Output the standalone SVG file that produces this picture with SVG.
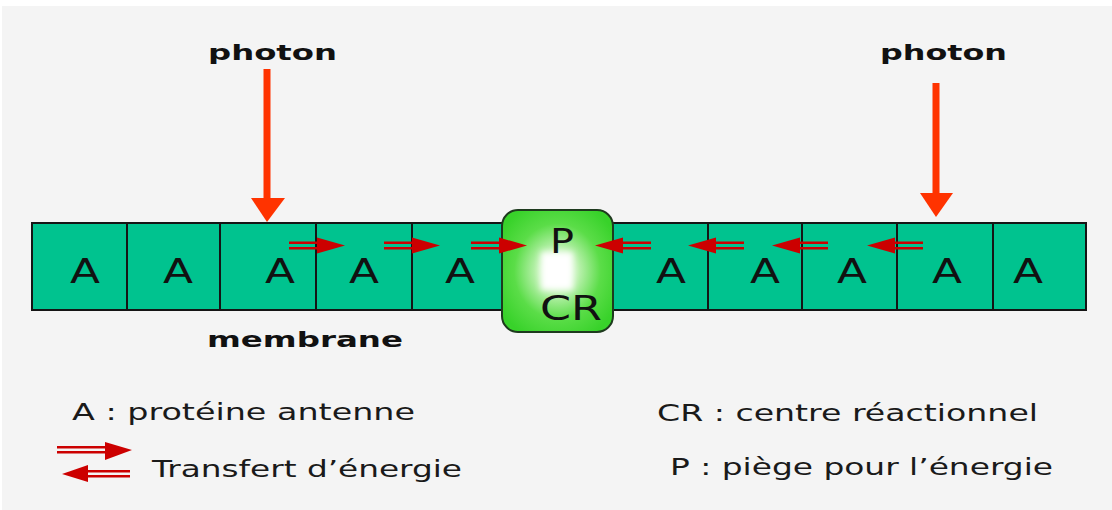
<svg xmlns="http://www.w3.org/2000/svg" width="1112" height="510" viewBox="0 0 1112 510">
<style>
.bg{fill:#f4f4f4}
.cell{fill:#00c38f;stroke:#151515;stroke-width:2}
.lbl{font-family:"DejaVu Sans",Verdana,sans-serif;font-size:34px;fill:#111;text-anchor:middle}
.bold{font-family:"DejaVu Sans","Liberation Sans",sans-serif;font-weight:bold;font-size:22px;fill:#111}
.leg{font-family:"DejaVu Sans","Liberation Sans",sans-serif;font-size:23px;fill:#1a1a1a}
.ph{stroke:#ff3300;stroke-width:7;fill:none}
.phh{fill:#ff3300}
.tr{fill:#cc0000}
</style>
<defs>
<radialGradient id="crg" cx="0.5" cy="0.5" r="0.6">
<stop offset="0" stop-color="#ffffff"/>
<stop offset="0.3" stop-color="#c0f2b4"/>
<stop offset="0.65" stop-color="#5bdd48"/>
<stop offset="1" stop-color="#38d22a"/>
</radialGradient>
<filter id="blur" x="-50%" y="-50%" width="200%" height="200%"><feGaussianBlur stdDeviation="3"/></filter>
<g id="arr">
<rect x="-56" y="-4" width="30" height="2.5" class="tr"/>
<rect x="-56" y="1.5" width="30" height="2.5" class="tr"/>
<polygon points="-28,-8 0,0 -28,8" class="tr"/>
</g>
</defs>
<rect class="bg" x="2" y="6" width="1110" height="504"/>

<g id="cells">
<g id="cell1"><rect class="cell" x="32" y="223" width="95" height="87"/><text class="lbl" x="85" y="283" textLength="30" lengthAdjust="spacingAndGlyphs">A</text></g>
<g id="cell2"><rect class="cell" x="127" y="223" width="93" height="87"/><text class="lbl" x="178" y="283" textLength="30" lengthAdjust="spacingAndGlyphs">A</text></g>
<g id="cell3"><rect class="cell" x="220" y="223" width="96" height="87"/><text class="lbl" x="280" y="283" textLength="30" lengthAdjust="spacingAndGlyphs">A</text></g>
<g id="cell4"><rect class="cell" x="316" y="223" width="96" height="87"/><text class="lbl" x="364" y="283" textLength="30" lengthAdjust="spacingAndGlyphs">A</text></g>
<g id="cell5"><rect class="cell" x="412" y="223" width="95" height="87"/><text class="lbl" x="460" y="283" textLength="30" lengthAdjust="spacingAndGlyphs">A</text></g>
<g id="cell6"><rect class="cell" x="608" y="223" width="100" height="87"/><text class="lbl" x="671" y="283" textLength="30" lengthAdjust="spacingAndGlyphs">A</text></g>
<g id="cell7"><rect class="cell" x="708" y="223" width="94" height="87"/><text class="lbl" x="765" y="283" textLength="30" lengthAdjust="spacingAndGlyphs">A</text></g>
<g id="cell8"><rect class="cell" x="802" y="223" width="95" height="87"/><text class="lbl" x="852" y="283" textLength="30" lengthAdjust="spacingAndGlyphs">A</text></g>
<g id="cell9"><rect class="cell" x="897" y="223" width="96" height="87"/><text class="lbl" x="947" y="283" textLength="30" lengthAdjust="spacingAndGlyphs">A</text></g>
<g id="cell10"><rect class="cell" x="993" y="223" width="93" height="87"/><text class="lbl" x="1028" y="283" textLength="30" lengthAdjust="spacingAndGlyphs">A</text></g>
</g>

<g id="cr">
<rect x="502" y="210" width="111" height="122" rx="16" fill="url(#crg)" stroke="#1e3a1e" stroke-width="2"/>
<rect x="541" y="252" width="32" height="38" fill="#ffffff" filter="url(#blur)"/>
<text class="lbl" x="562" y="253" textLength="24" lengthAdjust="spacingAndGlyphs">P</text>
<text class="lbl" x="571" y="320" font-size="32" textLength="62" lengthAdjust="spacingAndGlyphs">CR</text>
</g>

<g id="photon-left">
<text class="bold" x="208" y="60" textLength="129" lengthAdjust="spacingAndGlyphs">photon</text>
</g>
<g id="photon-right">
<text class="bold" x="880" y="60" textLength="127" lengthAdjust="spacingAndGlyphs">photon</text>
</g>
<g id="membrane">
<text class="bold" x="207" y="347" textLength="196" lengthAdjust="spacingAndGlyphs">membrane</text>
</g>

<g id="connectors">
<line class="ph" x1="267" y1="69" x2="267" y2="200"/>
<polygon class="phh" points="251,198 285,198 267,222"/>
<line class="ph" x1="936" y1="83" x2="936" y2="195"/>
<polygon class="phh" points="920,193 953,193 936,217"/>
<use href="#arr" transform="translate(345,245.5)"/>
<use href="#arr" transform="translate(440,245.5)"/>
<use href="#arr" transform="translate(527,245.5)"/>
<use href="#arr" transform="translate(595,245.5) scale(-1,1)"/>
<use href="#arr" transform="translate(688,245.5) scale(-1,1)"/>
<use href="#arr" transform="translate(772,245.5) scale(-1,1)"/>
<use href="#arr" transform="translate(867,245.5) scale(-1,1)"/>
</g>

<g id="legend">
<text class="leg" x="72" y="420" textLength="343" lengthAdjust="spacingAndGlyphs">A : protéine antenne</text>
<text class="leg" x="657" y="421" textLength="381" lengthAdjust="spacingAndGlyphs">CR : centre réactionnel</text>
<g id="legend-arrows">
<rect class="tr" x="57" y="446" width="50" height="2.5"/>
<rect class="tr" x="57" y="451" width="50" height="2.5"/>
<polygon class="tr" points="105,442 132,450 105,460"/>
<rect class="tr" x="85" y="470" width="45" height="2.5"/>
<rect class="tr" x="85" y="475" width="45" height="2.5"/>
<polygon class="tr" points="88,465 62,474 88,482"/>
</g>
<text class="leg" x="152" y="477" textLength="310" lengthAdjust="spacingAndGlyphs">Transfert d’énergie</text>
<text class="leg" x="670" y="475" textLength="383" lengthAdjust="spacingAndGlyphs">P : piège pour l’énergie</text>
</g>
</svg>
